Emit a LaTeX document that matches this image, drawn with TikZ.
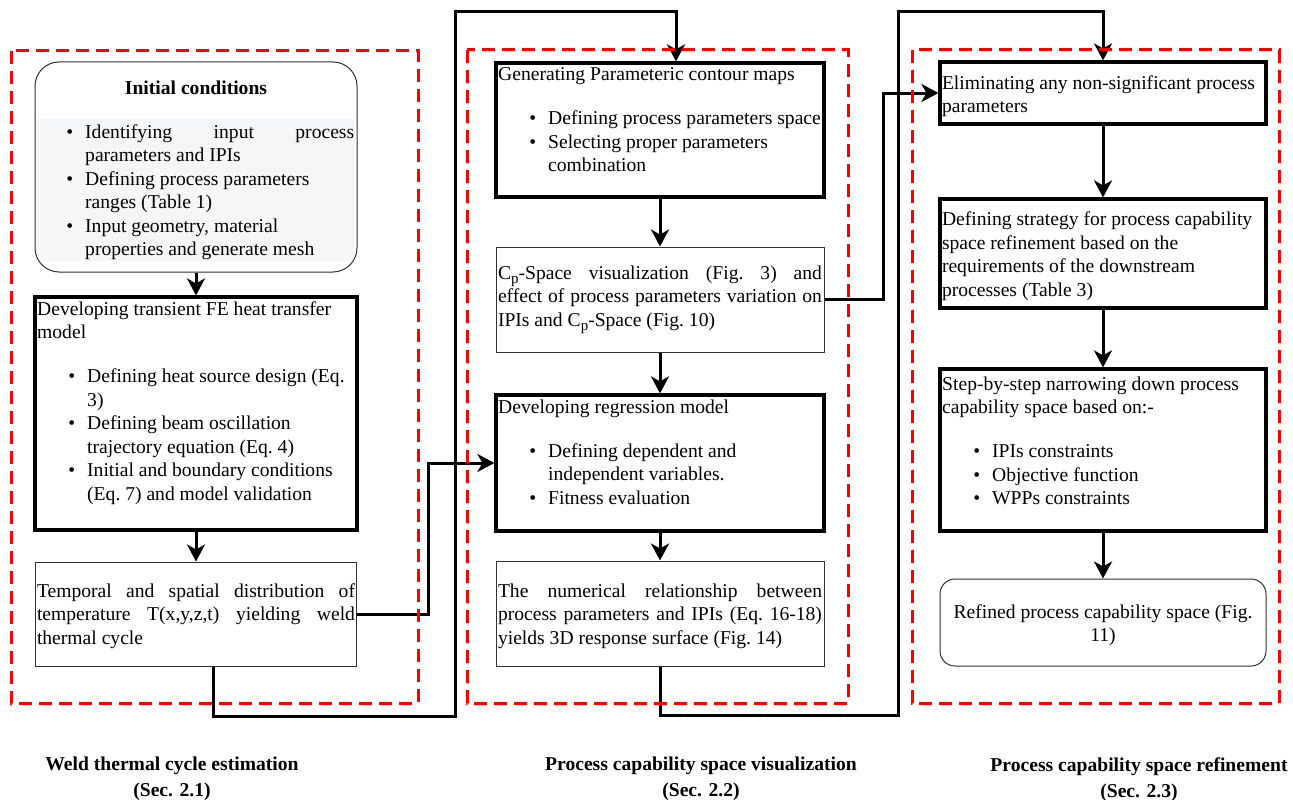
\documentclass[tikz,border=0pt]{standalone}
\usepackage{fontspec}
\setmainfont{Liberation Serif}
\usetikzlibrary{arrows.meta}
\definecolor{dashred}{RGB}{255,0,0}
\definecolor{initgray}{RGB}{245,246,248}
\definecolor{thinline}{RGB}{50,50,50}
\newcommand{\psub}{\raisebox{-4.5pt}{\fontsize{15}{15}\selectfont p}}
\newcommand{\txtsetup}{\fontsize{19.6}{23.5}\selectfont\frenchspacing\tolerance=10000\hbadness=10000\hfuzz=20pt\hyphenpenalty=10000\exhyphenpenalty=10000\parindent=0pt\parskip=0pt}
\newcommand{\bitem}[2][50pt]{\par\leftskip=#1\noindent\llap{\textbullet\hspace{12pt}}#2}
\newcommand{\gapline}{\par\vskip 20.5pt}
\newcommand{\topbox}[2]{\begin{minipage}[t]{#1}\txtsetup #2\end{minipage}}
\newcommand{\midbox}[2]{\begin{minipage}[c]{#1}\txtsetup #2\end{minipage}}
\begin{document}
\begin{tikzpicture}[x=1pt,y=-1pt,
 thickbox/.style={draw=black, line width=3.2pt, inner sep=0pt},
 thinbox/.style={draw=thinline, line width=1pt, inner sep=0pt},
 txt/.style={inner sep=0pt, anchor=base west},
 ctxt/.style={inner sep=0pt, anchor=center},
 conn/.style={line width=3pt, -{Stealth[length=17pt,width=18pt,inset=5pt]}},
 grp/.style={draw=dashred, line width=3pt, dash pattern=on 13pt off 7pt},
 lbl/.style={inner sep=0pt, anchor=north, align=center, font=\bfseries\fontsize{19.6}{26}\selectfont}]
\useasboundingbox (0,0) rectangle (1293,800);
\fill[white] (0,0) rectangle (1293,800);

% ---- left column
\fill[initgray] (36,119) rectangle (355,261);
\node[thinbox, rounded corners=24pt, minimum width=322pt, minimum height=210pt] (init) at (196,167) {};
\node[txt, anchor=base, font=\bfseries\fontsize{19.6}{23.5}\selectfont] (initT) at (196,95) {Initial conditions};
\node[txt] (initL) at (37,138) {\topbox{317pt}{%
\bitem[48pt]{Identifying input process\linebreak parameters and IPIs}
\bitem[48pt]{Defining process parameters\newline ranges (Table 1)}
\bitem[48pt]{Input geometry, material\newline properties and generate mesh}}};

\node[thickbox, minimum width=322pt, minimum height=233pt] (dev) at (196,413.5) {};
\node[txt] (devT) at (37,315) {\topbox{318pt}{%
Developing transient FE heat transfer\newline model\gapline
\bitem{Defining heat source design (Eq.\newline 3)}
\bitem{Defining beam oscillation\newline trajectory equation (Eq. 4)}
\bitem{Initial and boundary conditions\newline (Eq. 7) and model validation}}};

\node[thinbox, minimum width=321pt, minimum height=104pt] (temp) at (195.5,614) {};
\node[ctxt] (tempT) at (196,616) {\midbox{318pt}{%
Temporal and spatial distribution of\linebreak temperature T(x,y,z,t) yielding weld\linebreak thermal cycle}};

% ---- middle column
\node[thickbox, minimum width=328pt, minimum height=134pt] (gen) at (660,130) {};
\node[txt] (genT) at (498,81) {\topbox{326pt}{%
Generating Parameteric contour maps\gapline
\bitem{Defining process parameters space}
\bitem{Selecting proper parameters\newline combination}}};

\node[thinbox, minimum width=328pt, minimum height=105pt] (cp) at (660,299.5) {};
\node[ctxt] (cpT) at (660,300) {\midbox{324pt}{%
C\psub-Space visualization (Fig. 3) and\linebreak effect of process parameters variation on\linebreak IPIs and C\psub-Space (Fig. 10)}};

\node[thickbox, minimum width=328pt, minimum height=136pt] (reg) at (660,463) {};
\node[txt] (regT) at (498,413) {\topbox{326pt}{%
Developing regression model\gapline
\bitem{Defining dependent and\newline independent variables.}
\bitem{Fitness evaluation}}};

\node[thinbox, minimum width=328pt, minimum height=105pt] (num) at (660,613.5) {};
\node[ctxt] (numT) at (660,616) {\midbox{324pt}{%
The numerical relationship between\linebreak process parameters and IPIs (Eq. 16-18)\linebreak yields 3D response surface (Fig. 14)}};

% ---- right column
\node[thickbox, minimum width=326pt, minimum height=62pt] (elim) at (1103,93) {};
\node[ctxt] (elimT) at (1103,96) {\midbox{322pt}{%
Eliminating any non-significant process\newline parameters}};

\node[thickbox, minimum width=326pt, minimum height=109pt] (strat) at (1103,253.5) {};
\node[ctxt] (stratT) at (1103,256) {\midbox{322pt}{%
Defining strategy for process capability\newline space refinement based on the\newline requirements of the downstream\newline processes (Table 3)}};

\node[thickbox, minimum width=326pt, minimum height=162pt] (step) at (1103,450) {};
\node[txt] (stepT) at (942,390) {\topbox{322pt}{%
Step-by-step narrowing down process\newline capability space based on:-\gapline
\bitem{IPIs constraints}
\bitem{Objective function}
\bitem{WPPs constraints}}};

\node[thinbox, rounded corners=15pt, minimum width=326pt, minimum height=87pt] (ref) at (1103,622.5) {};
\node[ctxt] (refT) at (1103,625) {\midbox{322pt}{\centering
Refined process capability space (Fig.\\ 11)}};

% ---- connectors
\coordinate (j2) at (455,716);
\coordinate (j3) at (676,12);
\coordinate (j4) at (898,715);
\coordinate (j5) at (1103,12);
\draw[conn] (init.south) -- (dev.north);
\draw[conn] (dev.south) -- (dev.south |- temp.north);
\draw[conn] (temp.east) -- ++(72,0) |- (reg.west);
\draw[conn] ([xshift=17.5pt]temp.south) |- (j2) |- (j3) -- (j3 |- gen.north);
\draw[conn] (gen.south) -- (cp.north);
\draw[conn] (cp.south) -- (reg.north);
\draw[conn] (reg.south) -- (num.north);
\draw[conn] (num.south) |- (j4) |- (j5) -- (elim.north);
\draw[conn] (cp.east) -- ++(59,0) |- (elim.west);
\draw[conn] (elim.south) -- (strat.north);
\draw[conn] (strat.south) -- (step.north);
\draw[conn] (step.south) -- (ref.north);

% ---- groups
\draw[grp] (11,51) rectangle (418,703);
\draw[grp] (467,50) rectangle (848,703);
\draw[grp] (912,50) rectangle (1279,703);

% ---- labels
\node[lbl] (lab1) at (172,757) {Weld thermal cycle estimation\\(Sec. 2.1)};
\node[lbl] (lab2) at (701,757) {Process capability space visualization\\(Sec. 2.2)};
\node[lbl] (lab3) at (1139,757) {Process capability space refinement\\(Sec. 2.3)};
\end{tikzpicture}
\end{document}
